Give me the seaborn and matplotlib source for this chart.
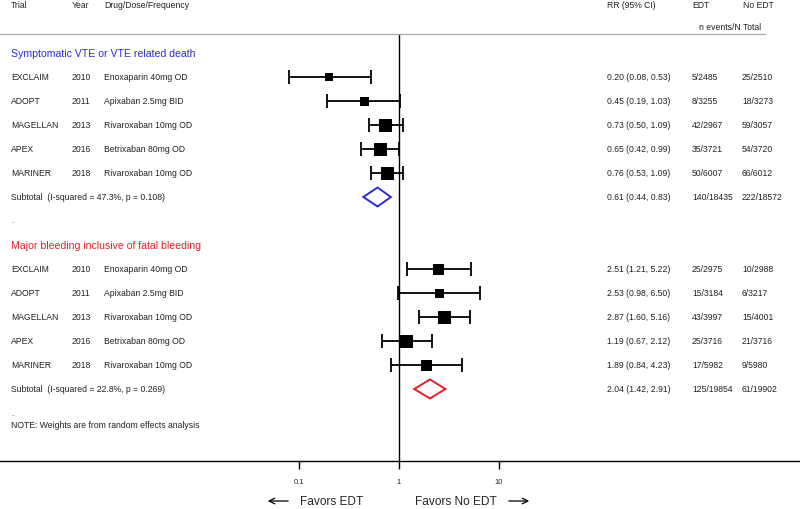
import numpy as np
import pandas as pd
import matplotlib
matplotlib.use("Agg")
import matplotlib.pyplot as plt
import matplotlib.transforms as mtransforms
from matplotlib.patches import Polygon
import seaborn as sns

# data
trials = ["EXCLAIM", "ADOPT", "MAGELLAN", "APEX", "MARINER"]
years = ["2010", "2011", "2013", "2016", "2018"]
drugs = ["Enoxaparin 40mg OD", "Apixaban 2.5mg BID", "Rivaroxaban 10mg OD",
         "Betrixaban 80mg OD", "Rivaroxaban 10mg OD"]

vte_rr = [0.20, 0.45, 0.73, 0.65, 0.76]
vte_lo = [0.08, 0.19, 0.50, 0.42, 0.53]
vte_hi = [0.53, 1.03, 1.09, 0.99, 1.09]
vte_edt = ["5/2485", "8/3255", "42/2967", "35/3721", "50/6007"]
vte_noedt = ["25/2510", "18/3273", "59/3057", "54/3720", "66/6012"]
vte_box = [8, 9, 13, 13, 13]  # box size (weights)
vte_sub = (0.61, 0.44, 0.83)
vte_sub_edt, vte_sub_noedt = "140/18435", "222/18572"
vte_sub_label = "Subtotal  (I-squared = 47.3%, p = 0.108)"

bl_rr = [2.51, 2.53, 2.87, 1.19, 1.89]
bl_lo = [1.21, 0.98, 1.60, 0.67, 0.84]
bl_hi = [5.22, 6.50, 5.16, 2.12, 4.23]
bl_edt = ["25/2975", "15/3184", "43/3997", "25/3716", "17/5982"]
bl_noedt = ["10/2988", "6/3217", "15/4001", "21/3716", "9/5980"]
bl_box = [11, 9, 13, 13, 11]
bl_sub = (2.04, 1.42, 2.91)
bl_sub_edt, bl_sub_noedt = "125/19854", "61/19902"
bl_sub_label = "Subtotal  (I-squared = 22.8%, p = 0.269)"

ticks = [0.1, 1, 10]
tick_labels = ["0.1", "1", "10"]

sns.set_style("white")
plt.rcParams['font.family'] = ['Liberation Sans', 'DejaVu Sans']

fig = plt.figure(figsize=(8, 5.1), dpi=100)
ax = fig.add_axes([0, 0, 1, 1])
ax.set_xscale("log")
ax.set_xlim(10 ** -3.99, 10 ** 4.01)
ax.set_ylim(510, 0)

# x in figure pixels, y in data (pixel rows)
tr = mtransforms.blended_transform_factory(
    mtransforms.Affine2D().scale(1 / 800.0) + fig.transFigure, ax.transData)

fs = 6.2
row0, step = 54, 24

def fmt_rr(r, lo, hi):
    return "%.2f (%.2f, %.2f)" % (r, lo, hi)

# header
for x, t in [(11, "Trial"), (72, "Year"), (104, "Drug/Dose/Frequency"),
             (607, "RR (95% CI)"), (692, "EDT"), (743, "No EDT")]:
    ax.text(x, 6, t, transform=tr, fontsize=fs, va="center", color="#222222")
ax.text(699, 27, "n events/N Total", transform=tr, fontsize=fs, va="center", color="#222222")
ax.axhline(35, xmin=0, xmax=765 / 800, color="#a8a8a8", lw=0.9)

sections = [
    ("Symptomatic VTE or VTE related death", "#2b2bd6", 0,
     vte_rr, vte_lo, vte_hi, vte_edt, vte_noedt, vte_box, vte_sub,
     vte_sub_edt, vte_sub_noedt, vte_sub_label),
    ("Major bleeding inclusive of fatal bleeding", "#e3202a", 8,
     bl_rr, bl_lo, bl_hi, bl_edt, bl_noedt, bl_box, bl_sub,
     bl_sub_edt, bl_sub_noedt, bl_sub_label),
]

for (title, col, start, rr, lo, hi, edt, noedt, box, sub,
     sub_edt, sub_noedt, sub_label) in sections:
    ax.text(11, row0 + step * start, title, transform=tr, fontsize=7.6,
            va="center", color=col)
    ys = [row0 + step * (start + 1 + i) for i in range(len(rr))]
    df = pd.DataFrame({"rr": rr, "lo": lo, "hi": hi, "y": ys, "box": box})
    ax.errorbar(df["rr"], df["y"], xerr=[df["rr"] - df["lo"], df["hi"] - df["rr"]],
                fmt="none", ecolor="black", elinewidth=1.3, capsize=5, capthick=1.3,
                zorder=2)
    sizes = {b: (b * 0.72) ** 2 for b in set(box)}
    sns.scatterplot(data=df, x="rr", y="y", size="box", sizes=sizes, marker="s",
                    color="black", edgecolor="none", linewidth=0, legend=False,
                    ax=ax, zorder=3)
    for i, y in enumerate(ys):
        ax.text(11, y, trials[i], transform=tr, fontsize=fs, va="center", color="#222222")
        ax.text(72, y, years[i], transform=tr, fontsize=fs, va="center", color="#222222")
        ax.text(104, y, drugs[i], transform=tr, fontsize=fs, va="center", color="#222222")
        ax.text(607, y, fmt_rr(rr[i], lo[i], hi[i]), transform=tr, fontsize=fs,
                va="center", color="#222222")
        ax.text(692, y, edt[i], transform=tr, fontsize=fs, va="center", color="#222222")
        ax.text(742, y, noedt[i], transform=tr, fontsize=fs, va="center", color="#222222")
    ys_sub = row0 + step * (start + 6)
    r, l, h = sub
    ax.add_patch(Polygon([(l, ys_sub), (r, ys_sub - 9.5), (h, ys_sub), (r, ys_sub + 9.5)],
                         closed=True, fill=False, edgecolor=col, lw=1.4, zorder=3))
    ax.text(11, ys_sub, sub_label, transform=tr, fontsize=fs, va="center", color="#222222")
    ax.text(607, ys_sub, fmt_rr(r, l, h), transform=tr, fontsize=fs, va="center", color="#222222")
    ax.text(692, ys_sub, sub_edt, transform=tr, fontsize=fs, va="center", color="#222222")
    ax.text(742, ys_sub, sub_noedt, transform=tr, fontsize=fs, va="center", color="#222222")

ax.text(11, 221, ".", transform=tr, fontsize=fs, va="center", color="#555555")
ax.text(11, 414, ".", transform=tr, fontsize=fs, va="center", color="#555555")
ax.text(11, 426, "NOTE: Weights are from random effects analysis", transform=tr,
        fontsize=fs, va="center", color="#222222")

# null line
ax.vlines(1, 35, 462, color="black", lw=1.0, zorder=1)

# x axis
for s in ["top", "left", "right"]:
    ax.spines[s].set_visible(False)
ax.spines["bottom"].set_position(("data", 462))
ax.spines["bottom"].set_color("black")
ax.spines["bottom"].set_linewidth(1.0)
ax.set_xticks(ticks)
ax.set_xticklabels(tick_labels)
ax.minorticks_off()
ax.tick_params(axis="x", direction="out", length=6, width=1.0, labelsize=5.5,
               pad=6, colors="black", labelcolor="#222222", bottom=True)
ax.set_yticks([])
ax.set_xlabel("")
ax.set_ylabel("")

ax.text(300, 502, "Favors EDT", transform=tr, fontsize=8.6, va="center")
ax.text(415, 502, "Favors No EDT", transform=tr, fontsize=8.6, va="center")
ax.annotate("", xy=(265, 502), xytext=(291, 502), xycoords=tr, textcoords=tr,
            arrowprops=dict(arrowstyle="->", lw=0.9, color="black"))
ax.annotate("", xy=(532, 502), xytext=(506, 502), xycoords=tr, textcoords=tr,
            arrowprops=dict(arrowstyle="->", lw=0.9, color="black"))

fig.savefig("out.png", dpi=100)
